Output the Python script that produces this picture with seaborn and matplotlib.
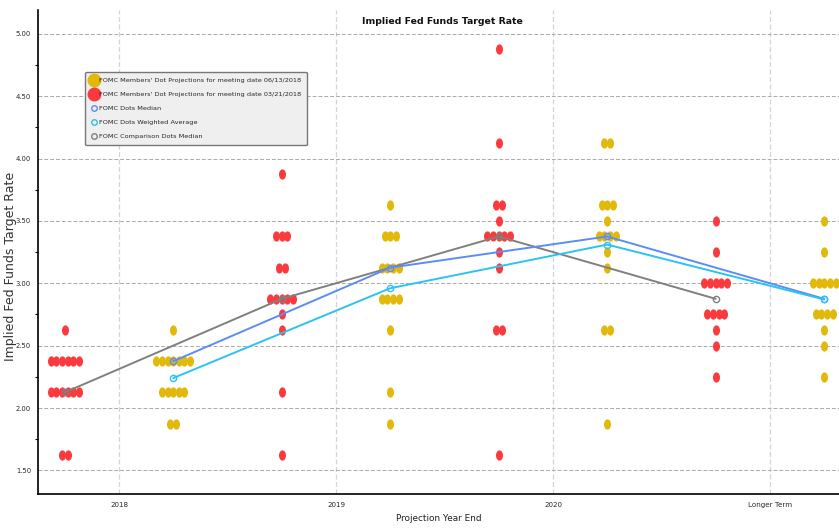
import numpy as np
import pandas as pd
import matplotlib
matplotlib.use("Agg")
import matplotlib.pyplot as plt
from matplotlib import font_manager
from matplotlib.path import Path
from matplotlib.lines import Line2D
import seaborn as sns

# ---- data ----
periods = ["2018", "2019", "2020", "Longer Term"]

# (rate, number of participants) per period
march_dots = [
    [(2.625, 1), (2.375, 6), (2.125, 6), (1.625, 2)],
    [(3.875, 1), (3.375, 3), (3.125, 2), (2.875, 5), (2.75, 1), (2.625, 1), (2.125, 1), (1.625, 1)],
    [(4.875, 1), (4.125, 1), (3.625, 2), (3.5, 1), (3.375, 5), (3.25, 1), (3.125, 1), (2.625, 2), (1.625, 1)],
    [(3.5, 1), (3.25, 1), (3.0, 5), (2.75, 4), (2.625, 1), (2.5, 1), (2.25, 1)],
]
june_dots = [
    [(2.625, 1), (2.375, 7), (2.125, 5), (1.875, 2)],
    [(3.625, 1), (3.375, 3), (3.125, 4), (2.875, 4), (2.625, 1), (2.125, 1), (1.875, 1)],
    [(4.125, 2), (3.625, 3), (3.5, 1), (3.375, 4), (3.25, 1), (3.125, 1), (2.625, 2), (1.875, 1)],
    [(3.5, 1), (3.25, 1), (3.0, 5), (2.75, 4), (2.625, 1), (2.5, 1), (2.25, 1)],
]

dots_median = [2.375, 3.125, 3.375, 2.875]
dots_weighted_avg = [2.24, 2.96, 3.31, 2.87]
comparison_median = [2.125, 2.875, 3.375, 2.875]

yticks = [1.5, 2.0, 2.5, 3.0, 3.5, 4.0, 4.5, 5.0]

# ---- style ----
YELLOW = "#e2b90b"
RED = "#fb3a3e"
BLUE = "#5b8df7"
CYAN = "#2cc2f3"
GREY = "#808080"

sns.set_style("white")
names = {f.name for f in font_manager.fontManager.ttflist}
if "Liberation Sans Narrow" in names:
    NARROW, k = "Liberation Sans Narrow", 1.0
else:
    NARROW, k = "DejaVu Sans", 0.75
plt.rcParams["font.family"] = [NARROW, "DejaVu Sans"]


def stack(dots, offset):
    rows = []
    for i, col in enumerate(dots):
        for rate, n in col:
            for j in range(n):
                rows.append({"x": i + offset + (j - (n - 1) / 2) * 0.026, "rate": rate})
    return pd.DataFrame(rows)


march_df = stack(march_dots, -0.25)
june_df = stack(june_dots, 0.25)

circ = Path.unit_circle()
ellipse = Path(circ.vertices * np.array([0.68, 1.0]), circ.codes)

fig = plt.figure(figsize=(8.39, 5.29), dpi=100)
ax = fig.add_axes([0.0453, 0.066, 0.9547, 0.915])

sns.scatterplot(data=march_df, x="x", y="rate", ax=ax, marker=ellipse, s=55,
                color=RED, linewidth=0, zorder=3)
sns.scatterplot(data=june_df, x="x", y="rate", ax=ax, marker=ellipse, s=55,
                color=YELLOW, linewidth=0, zorder=3)

pos = np.arange(len(periods))
line_kw = dict(marker="o", markersize=4.5, markerfacecolor="none", markeredgewidth=1.0,
               linewidth=1.4, ax=ax, zorder=4)
sns.lineplot(x=pos - 0.25, y=comparison_median, color=GREY, markeredgecolor=GREY, **line_kw)
sns.lineplot(x=pos + 0.25, y=dots_median, color=BLUE, markeredgecolor=BLUE, **line_kw)
sns.lineplot(x=pos + 0.25, y=dots_weighted_avg, color=CYAN, markeredgecolor=CYAN, **line_kw)

ax.set_xlim(-0.373, 3.318)
ax.set_ylim(1.31, 5.19)
ax.set_xticks(pos)
ax.set_xticklabels(periods, fontsize=6.8 * k)
ax.set_yticks(yticks)
ax.set_yticklabels([f"{v:.2f}" for v in yticks], fontsize=6.5 * k)
ax.set_yticks(np.arange(1.5, 5.01, 0.25), minor=True)
ax.tick_params(axis="y", which="major", length=3.5, width=1, direction="out", color="black", pad=1.5)
ax.tick_params(axis="y", which="minor", length=2.5, width=0.8, direction="out", color="black", left=True)
ax.tick_params(axis="x", length=0, pad=6)

ax.grid(axis="y", which="major", linestyle=(0, (4, 2)), color="#aaaaaa", linewidth=0.7)
ax.grid(axis="x", which="major", linestyle=(0, (4, 2)), color="#d4d4d4", linewidth=0.9)
ax.set_axisbelow(True)
for side in ["top", "right"]:
    ax.spines[side].set_visible(False)
for side in ["left", "bottom"]:
    ax.spines[side].set_color("black")
    ax.spines[side].set_linewidth(1.2)

ax.set_xlabel("Projection Year End", fontsize=8.5 * k, color="#222222", labelpad=4)
ax.set_ylabel("Implied Fed Funds Target Rate", fontsize=9, family="DejaVu Sans",
              color="#333333")
ax.yaxis.set_label_coords(-0.026, 0.47)
ax.text(0.505, 0.985, "Implied Fed Funds Target Rate", transform=ax.transAxes,
        ha="center", va="top", fontsize=9 * k, fontweight="bold", color="#111111")

handles = [
    Line2D([], [], linestyle="none", marker="o", markersize=9, color=YELLOW),
    Line2D([], [], linestyle="none", marker="o", markersize=9, color=RED),
    Line2D([], [], linestyle="none", marker="o", markersize=4, markerfacecolor="none",
           markeredgecolor=BLUE, markeredgewidth=1),
    Line2D([], [], linestyle="none", marker="o", markersize=4, markerfacecolor="none",
           markeredgecolor=CYAN, markeredgewidth=1),
    Line2D([], [], linestyle="none", marker="o", markersize=4, markerfacecolor="none",
           markeredgecolor=GREY, markeredgewidth=1),
]
labels = [
    "FOMC Members' Dot Projections for meeting date 06/13/2018",
    "FOMC Members' Dot Projections for meeting date 03/21/2018",
    "FOMC Dots Median",
    "FOMC Dots Weighted Average",
    "FOMC Comparison Dots Median",
]
leg = ax.legend(handles, labels, loc="upper left", bbox_to_anchor=(0.059, 0.872),
                fontsize=6.2 * k, frameon=True, fancybox=True, framealpha=1,
                facecolor="#efefef", edgecolor="#777777", handlelength=1.0,
                handletextpad=0.2, labelspacing=1.3, borderpad=0.9, borderaxespad=0)
leg.get_frame().set_linewidth(1.0)

fig.savefig("out.png", dpi=100)
